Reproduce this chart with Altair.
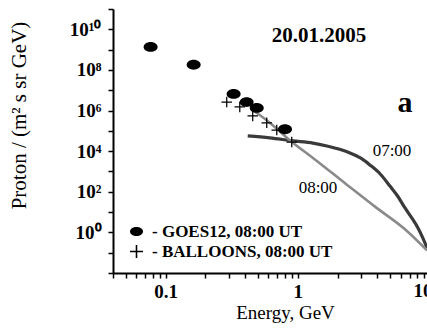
import altair as alt
import pandas as pd

# ---- data ----
goes_E = [0.077, 0.163, 0.327, 0.41, 0.489, 0.80]
goes_F = [1.35e9, 1.8e8, 6.6e6, 2.6e6, 1.35e6, 1.2e5]
balloon_E = [0.29, 0.364, 0.456, 0.582, 0.693, 0.90]
balloon_F = [2.6e6, 1.5e6, 5.4e5, 2.5e5, 1.1e5, 2.8e4]

c07_E = [0.418, 0.614, 0.916, 1.30, 1.66, 2.10, 2.48, 3.00, 3.51, 4.20, 4.98, 5.70, 6.47, 7.30, 8.11, 8.80, 9.49]
c07_F = [5.6e4, 4.5e4, 3.2e4, 2.5e4, 1.8e4, 1.2e4, 8.2e3, 4.5e3, 2.1e3, 7.5e2, 1.9e2, 60, 16, 5.0, 1.65, 0.55, 0.17]
c08_E = [0.456, 0.61, 0.85, 1.37, 2.30, 3.9, 6.4, 9.49]
c08_F = [1.07e6, 2.6e5, 3.9e4, 3.6e3, 2.5e2, 17, 1.5, 0.13]

goes_label = "- GOES12, 08:00 UT"
balloon_label = "- BALLOONS, 08:00 UT"

x_ticks = [0.04, 0.05, 0.06, 0.07, 0.08, 0.09,
           0.1, 0.2, 0.3, 0.4, 0.5, 0.6, 0.7, 0.8, 0.9,
           1, 2, 3, 4, 5, 6, 7, 8, 9]
y_ticks = [1e-2, 1e-1, 1, 1e1, 1e2, 1e3, 1e4, 1e5, 1e6, 1e7, 1e8, 1e9, 1e10, 1e11]
edge_label_E = [10]
edge_label_t = ["10"]

FONT = "Liberation Serif"

goes = pd.DataFrame({"E": goes_E, "F": goes_F, "src": [goes_label] * len(goes_E)})
balloons = pd.DataFrame({"E": balloon_E, "F": balloon_F, "src": [balloon_label] * len(balloon_E)})
c07 = pd.DataFrame({"E": c07_E, "F": c07_F})
c08 = pd.DataFrame({"E": c08_E, "F": c08_F})
edge = pd.DataFrame({"E": edge_label_E, "t": edge_label_t})

xscale = alt.Scale(type="log", domain=[0.04, 9.49], nice=False)
yscale = alt.Scale(type="log", domain=[1e-2, 1e11], nice=False)

ylabel_expr = ("datum.value < 1 ? '' : ['10\u2070','','10\u00b2','','10\u2074','','10\u2076','','10\u2078','','10\u00b9\u2070','', '', '']"
               "[round(log(datum.value)/LN10)]")
xlabel_expr = "datum.value == 0.1 ? '0.1' : (datum.value == 1 ? '1' : '')"

x_enc = alt.X("E:Q", scale=xscale, axis=alt.Axis(
    values=x_ticks, labelExpr=xlabel_expr, title="Energy, GeV", grid=False,
    labelFont=FONT, labelFontWeight="bold", labelFontSize=19, labelPadding=4,
    labelFlush=False, labelOverlap=False, tickSize=5,
    titleFont=FONT, titleFontWeight="normal", titleFontSize=19, titlePadding=2,
    titleX=172))
y_enc = alt.Y("F:Q", scale=yscale, axis=alt.Axis(
    values=y_ticks, labelExpr=ylabel_expr, title="Proton / (m\u00b2 s sr GeV)", grid=False,
    labelFont=FONT, labelFontWeight="bold", labelFontSize=19, labelPadding=7,
    labelFlush=False, labelOverlap=False, tickSize=5,
    titleFont=FONT, titleFontWeight="normal", titleFontSize=21,
    titleX=-94, titleY=106, titleAngle=-90, titleAlign="center", titleBaseline="middle"))

ellipse = "M-1,0A1,0.7,0,1,0,1,0A1,0.7,0,1,0,-1,0Z"
cross = ("M-1,-0.12L-0.12,-0.12L-0.12,-1L0.12,-1L0.12,-0.12L1,-0.12L1,0.12L0.12,0.12"
         "L0.12,1L-0.12,1L-0.12,0.12L-1,0.12Z")

shape_scale = alt.Scale(domain=[goes_label, balloon_label], range=[ellipse, cross])
shape_legend = alt.Legend(title=None, orient="none", legendX=15, legendY=214,
                          labelFont=FONT, labelFontWeight="bold", labelFontSize=17,
                          labelColor="black", labelLimit=400, symbolFillColor="black",
                          symbolStrokeColor="black", symbolStrokeWidth=0, symbolSize=170,
                          labelOffset=7, rowPadding=2, padding=0)

line07 = alt.Chart(c07).mark_line(color="#3a3a3a", strokeWidth=3.2, interpolate="monotone").encode(x=x_enc, y=y_enc)
line08 = alt.Chart(c08).mark_line(color="#8a8a8a", strokeWidth=2.6, interpolate="monotone").encode(x="E:Q", y="F:Q")

pts_goes = alt.Chart(goes).mark_point(filled=True, color="black", opacity=1, size=196).encode(
    x="E:Q", y="F:Q", shape=alt.Shape("src:N", scale=shape_scale, legend=shape_legend))
pts_ball = alt.Chart(balloons).mark_point(filled=True, color="black", opacity=1, size=110).encode(
    x="E:Q", y="F:Q", shape=alt.Shape("src:N", scale=shape_scale, legend=shape_legend))

edge_txt = alt.Chart(edge).mark_text(font=FONT, fontSize=19, fontWeight="bold", color="black",
                                     align="center", baseline="top", dx=-7).encode(
    x="E:Q", y=alt.value(273), text="t:N")

def label(text, x, y, size, weight="normal", align="center"):
    return alt.Chart(pd.DataFrame({"t": [text]})).mark_text(
        font=FONT, fontSize=size, fontWeight=weight, color="black", align=align, baseline="middle"
    ).encode(text="t:N", x=alt.value(x), y=alt.value(y))

texts = (label("20.01.2005", 206, 27, 21, "bold") + label("a", 292, 94, 30, "bold")
         + label("07:00", 279, 142, 17) + label("08:00", 205, 179, 17))

chart = alt.layer(line07, line08, pts_goes, pts_ball, edge_txt, texts).properties(
    width=314, height=264,
    autosize=alt.AutoSizeParams(type="none"),
    padding={"left": 113, "top": 9, "right": 0, "bottom": 58},
).configure_view(stroke=None).configure_axis(
    domainColor="black", domainWidth=2, tickColor="black", tickWidth=1.5, labelColor="black", titleColor="black"
)

chart.save("out.html", embed_options={"renderer": "svg", "actions": False})
